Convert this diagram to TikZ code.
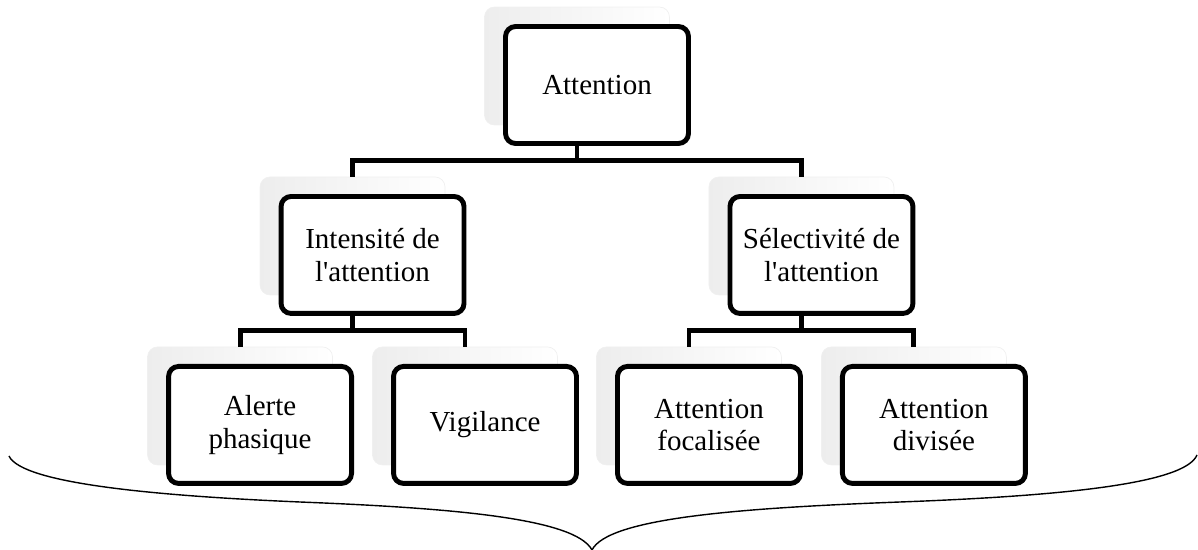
\documentclass[tikz,border=0pt]{standalone}
\usepackage{fontspec}
\setmainfont{Liberation Serif}
\begin{document}
\begin{tikzpicture}[x=0.02cm, y=-0.02cm, level distance=3.4cm,
		level 1/.style={sibling distance=8.98cm},
		level 2/.style={sibling distance=4.5cm},
		every node/.style={rounded corners=0.2cm, minimum width=3.7cm, minimum height=2.36cm, inner sep=0pt},
		back/.style={draw=gray!12, left color=gray!14, right color=white, thin},
		box/.style={draw, fill=white, line width=2.8pt, minimum width=3.66cm, minimum height=2.34cm,
		align=center, font=\fontsize{16.5}{18.5}\selectfont},
		edge from parent/.style={draw, line width=2.8pt},
		edge from parent path={(\tikzparentnode.south) |- ([yshift=0.32cm]\tikzchildnode.north) -| (\tikzchildnode.north)} ]
	\useasboundingbox (0,0) rectangle (1198,550);
	\node[back] (att) at (577,66) {}
		child{node[back] (int) {} child{node[back] (ale) {}} child{node[back] (vig) {}} }
		child{node[back] (sel) {} child{node[back] (foc) {}} child{node[back] (div) {}} };
	\foreach \n/\t in {att/Attention, int/Intensité de\\l\textquotesingle attention, sel/Sélectivité de\\l\textquotesingle attention,
		ale/Alerte\\phasique, vig/Vigilance, foc/Attention\\focalisée, div/Attention\\divisée}
		\node[box] (\n-box) at ([shift={(20,19)}]\n) {\t};
	% accolade
	\draw[line width=0.8pt] (9,456) .. controls (22,484) and (160,496) .. (300,502)
		.. controls (450,508) and (575,518) .. (592,550)
		.. controls (608,518) and (740,508) .. (900,502)
		.. controls (1060,496) and (1185,484) .. (1197,455);
\end{tikzpicture}
\end{document}
